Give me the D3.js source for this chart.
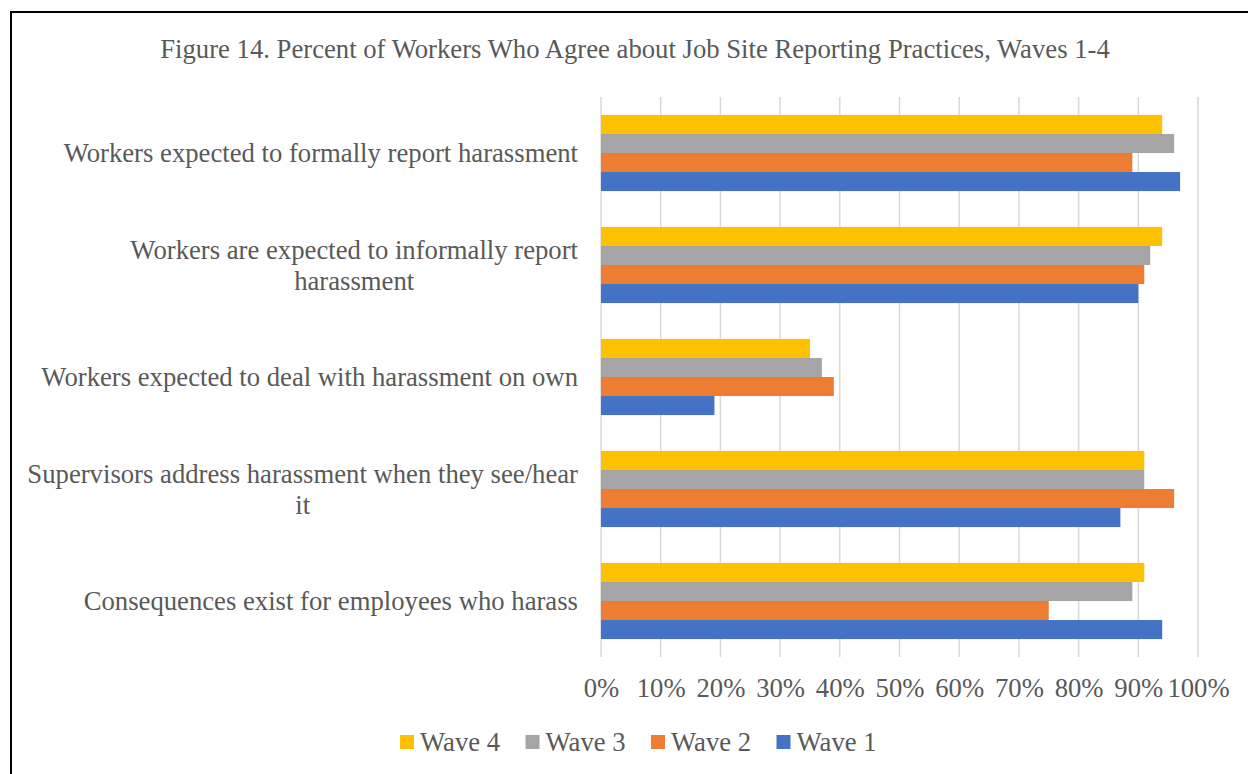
<!DOCTYPE html>
<html>
<head>
<meta charset="utf-8">
<script src="https://cdn.jsdelivr.net/npm/d3@7"></script>
<style>
  html, body { margin: 0; padding: 0; background: #fff; }
  svg { display: block; }
  text { font-family: "Liberation Serif", "Times New Roman", serif; fill: #595959; }
</style>
</head>
<body>
<svg id="chart" width="1248" height="774"></svg>
<script>
const title = "Figure 14. Percent of Workers Who Agree about Job Site Reporting Practices, Waves 1-4";
const categories = [
  ["Workers expected to formally report harassment"],
  ["Workers are expected to informally report", "harassment"],
  ["Workers expected to deal with harassment on own"],
  ["Supervisors address harassment when they see/hear", "it"],
  ["Consequences exist for employees who harass"]
];
const seriesNames = ["Wave 4", "Wave 3", "Wave 2", "Wave 1"];
const seriesColors = ["#FFC000", "#A5A5A5", "#ED7D31", "#4472C4"];
const wave4 = [94, 94, 35, 91, 91];
const wave3 = [96, 92, 37, 91, 89];
const wave2 = [89, 91, 39, 96, 75];
const wave1 = [97, 90, 19, 87, 94];
const tickValues = [0, 10, 20, 30, 40, 50, 60, 70, 80, 90, 100];

(function () {
const seriesValues = [wave4, wave3, wave2, wave1];
const svg = d3.select("#chart");
const fs = "26.7px";

// frame
svg.append("rect").attr("x", 11).attr("y", 12).attr("width", 1260).attr("height", 800)
  .attr("fill", "none").attr("stroke", "#000").attr("stroke-width", 2);

const pLeft = 601, pRight = 1198, pTop = 97, pBottom = 657;
const x = d3.scaleLinear().domain([0, 100]).range([pLeft, pRight]);
const y = d3.scaleBand().domain(d3.range(categories.length)).range([pTop, pBottom]).paddingInner(0.32).paddingOuter(0.16);
const y1 = d3.scaleBand().domain(d3.range(seriesNames.length)).range([0, y.bandwidth()]);

// title
svg.append("text").attr("x", 635).attr("y", 58).attr("text-anchor", "middle")
  .style("font-size", fs).text(title);

// gridlines
svg.append("g").selectAll("line").data(tickValues).join("line")
  .attr("x1", d => x(d)).attr("x2", d => x(d))
  .attr("y1", pTop).attr("y2", pBottom)
  .attr("stroke", "#D9D9D9").attr("stroke-width", 1.5);

// bars
const groups = svg.append("g").selectAll("g").data(categories).join("g")
  .attr("transform", (d, i) => `translate(0,${y(i)})`);
groups.selectAll("rect").data((d, i) => seriesValues.map((s, k) => ({k, v: s[i]}))).join("rect")
  .attr("x", x(0)).attr("y", d => y1(d.k))
  .attr("width", d => x(d.v) - x(0)).attr("height", y1.bandwidth())
  .attr("fill", d => seriesColors[d.k]);

// x axis tick labels
const xAxis = d3.axisBottom(x).tickValues(tickValues).tickFormat(d => d + "%").tickSize(0).tickPadding(0);
const gx = svg.append("g").attr("transform", `translate(0,${pBottom + 40})`).call(xAxis);
gx.select(".domain").remove();
gx.selectAll("text").style("font-size", fs).style("font-family", "'Liberation Serif', 'Times New Roman', serif").attr("fill", "#595959").attr("dy", 0);

// category labels
const labelRight = 578, lineH = 31;
categories.forEach((lines, i) => {
  const cy = y(i) + y.bandwidth() / 2;
  const t = svg.append("text").style("font-size", fs).attr("text-anchor", "middle");
  lines.forEach((ln, j) => {
    t.append("tspan").text(ln).attr("y", cy + 9 + (j - (lines.length - 1) / 2) * lineH);
  });
  const widths = [];
  t.selectAll("tspan").each(function() { widths.push(this.getComputedTextLength()); });
  const maxW = d3.max(widths);
  t.selectAll("tspan").attr("x", labelRight - maxW / 2);
});

// legend
const legendX = [400, 525.5, 651, 776.5];
const lg = svg.append("g").selectAll("g").data(seriesNames).join("g")
  .attr("transform", (d, i) => `translate(${legendX[i]},735)`);
lg.append("rect").attr("width", 14).attr("height", 14).attr("fill", (d, i) => seriesColors[i]);
lg.append("text").attr("x", 20).attr("y", 16).style("font-size", fs).text(d => d);
})();
</script>
</body>
</html>
